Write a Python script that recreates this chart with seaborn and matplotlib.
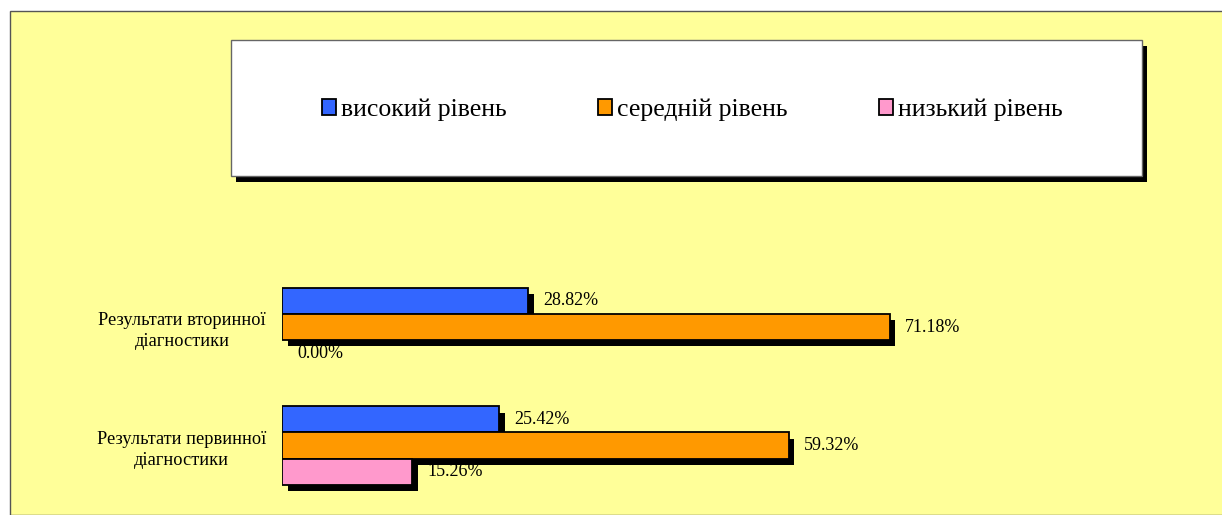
import matplotlib
matplotlib.use("Agg")
import matplotlib.pyplot as plt
import matplotlib.patheffects as pe
from matplotlib.patches import Rectangle
import pandas as pd
import seaborn as sns

# chart data
categories = ["Результати вторинної\nдіагностики", "Результати первинної\nдіагностики"]
levels = ["високий рівень", "середній рівень", "низький рівень"]
high_level = [28.82, 25.42]
middle_level = [71.18, 59.32]
low_level = [0.00, 15.26]
colors = ["#3366FF", "#FF9900", "#FF99CC"]

rows = []
for level, values in zip(levels, [high_level, middle_level, low_level]):
    for cat, v in zip(categories, values):
        rows.append({"category": cat, "level": level, "value": v})
df = pd.DataFrame(rows)

sns.set_theme(style="white")
plt.rcParams["font.family"] = ["Liberation Serif", "DejaVu Serif"]
plt.rcParams["text.color"] = "black"
plt.rcParams["ytick.color"] = "black"

W, H = 1222, 515
fig = plt.figure(figsize=(W / 100, H / 100), dpi=100)
fig.patch.set_facecolor("white")

# yellow chart area with thin border on left / top
fig.patches.append(Rectangle((9.5 / W, 0), 1 - 9.5 / W + 0.01, 1 - 11 / H,
                             transform=fig.transFigure, facecolor="#FFFF99",
                             edgecolor="#555555", linewidth=1, zorder=-3))

# legend box with shadow
bx0, by0, bx1, by1 = 231, 40, 1142, 176
fig.patches.append(Rectangle(((bx0 + 5) / W, 1 - (by1 + 6) / H), (bx1 - bx0) / W, (by1 - by0) / H,
                             transform=fig.transFigure, facecolor="black",
                             edgecolor="none", zorder=-2))
fig.patches.append(Rectangle((bx0 / W, 1 - by1 / H), (bx1 - bx0) / W, (by1 - by0) / H,
                             transform=fig.transFigure, facecolor="white",
                             edgecolor="#666666", linewidth=1, zorder=-1))

# bar axes
y_top, y_bot = 255.9, 510.7
ax = fig.add_axes([282 / W, 1 - y_bot / H, 854 / W, (y_bot - y_top) / H])
ax.set_facecolor("none")
ax.set_zorder(5)

sns.barplot(data=df, y="category", x="value", hue="level", order=categories,
            hue_order=levels, palette=colors, orient="h", width=0.66,
            edgecolor="black", linewidth=1.3, saturation=1, ax=ax)

handles, labels = ax.get_legend_handles_labels()
ax.get_legend().remove()

shadow = [pe.SimplePatchShadow(offset=(4, -4.5), shadow_rgbFace="black", alpha=1.0), pe.Normal()]
for container in ax.containers:
    for patch in container.patches:
        if patch.get_width() > 0:
            patch.set_path_effects(shadow)
        else:
            patch.set_linewidth(0)
    ax.bar_label(container, fmt="%.2f%%", padding=10.8, fontsize=13, color="black")

ax.set_xlim(0, 100)
ax.set_ylim(1.55, -0.6)
ax.set_xlabel("")
ax.set_ylabel("")
ax.set_xticks([])
ax.tick_params(axis="y", length=0, pad=11.5, labelsize=13.2)
for t in ax.get_yticklabels():
    t.set_multialignment("center")
    t.set_linespacing(1.32)
for s in ax.spines.values():
    s.set_visible(False)

leg = fig.legend(handles, labels, ncol=3, frameon=False, loc="center",
                 bbox_to_anchor=(692 / W, 1 - 110 / H), fontsize=18.5,
                 handlelength=0.55, handleheight=0.55, handletextpad=0.2,
                 columnspacing=3.55)
leg.set_zorder(10)

fig.savefig("out.png", dpi=100)
